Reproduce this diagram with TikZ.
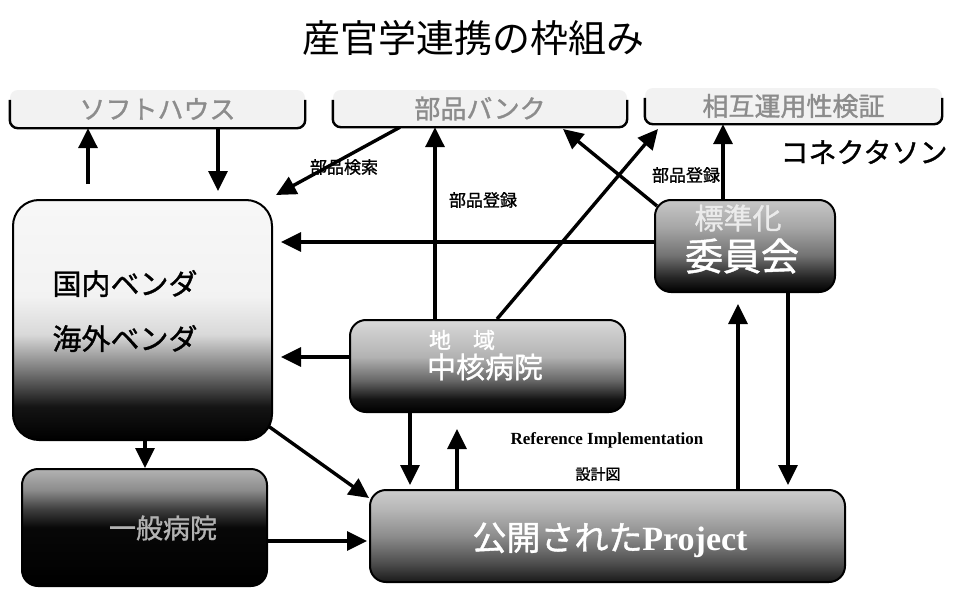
\documentclass[tikz,border=0pt]{standalone}
\usepackage{fontspec}
\setmainfont{Noto Sans CJK JP}
\newfontfamily\cjkb{Noto Sans CJK JP}[FakeBold=1.2]
\newfontfamily\tms{Liberation Serif}
\usetikzlibrary{arrows.meta}
\pgfdeclarelayer{back}
\pgfdeclarelayer{bg}
\pgfsetlayers{back,bg,main}
\pgfdeclareverticalshading{vendsh}{100bp}{color(0bp)=(black); color(25bp)=(black); color(32bp)=(black!92); color(40bp)=(black!50); color(47bp)=(black!15); color(55bp)=(black!5); color(75bp)=(black!3); color(100bp)=(black!3)}
\pgfdeclareverticalshading{commsh}{100bp}{color(0bp)=(black); color(25bp)=(black); color(33bp)=(black!85); color(45bp)=(black!55); color(60bp)=(black!35); color(75bp)=(black!22); color(100bp)=(black!22)}
\pgfdeclareverticalshading{hospsh}{100bp}{color(0bp)=(black); color(25bp)=(black); color(32bp)=(black!92); color(42bp)=(black!60); color(55bp)=(black!30); color(75bp)=(black!15); color(100bp)=(black!15)}
\pgfdeclareverticalshading{gensh}{100bp}{color(0bp)=(black); color(25bp)=(black); color(50bp)=(black!97); color(58bp)=(black!75); color(66bp)=(black!45); color(75bp)=(black!30); color(100bp)=(black!30)}
\pgfdeclareverticalshading{projsh}{100bp}{color(0bp)=(black); color(25bp)=(black!90); color(35bp)=(black!70); color(50bp)=(black!45); color(65bp)=(black!28); color(75bp)=(black!20); color(100bp)=(black!20)}
\tikzset{
  arr/.style={line width=3.4pt, -{Triangle[length=20pt,width=19pt]}},
  topbox/.style={rounded corners=8pt, fill=black!5, inner sep=0pt, text=black!45, font=\cjkb\fontsize{26}{28}\selectfont},
  topedge/.style={line width=2.4pt, rounded corners=8pt},
  gbox/.style={rounded corners=16pt, draw=black, line width=2pt, inner sep=0pt},
  lab/.style={font=\cjkb\fontsize{17}{19}\selectfont, inner sep=0pt}
}
\begin{document}
\begin{tikzpicture}[x=1pt,y=-1pt]
\begin{pgfonlayer}{back}
\fill[white] (0,0) rectangle (954,589);
\end{pgfonlayer}
\useasboundingbox (0,0) rectangle (954,589);
% title
\node[font=\fontsize{38}{40}\selectfont, inner sep=0pt] (title) at (473,38) {産官学連携の枠組み};
% top boxes
\node[topbox, minimum width=295pt, minimum height=38pt] (soft) at (157.5,109) {ソフトハウス};
\node[topbox, minimum width=294pt, minimum height=37pt] (bank) at (480,108.5) {部品バンク};
\node[topbox, minimum width=297pt, minimum height=36pt] (inter) at (793.5,106) {相互運用性検証};
\draw[topedge] ([yshift=-10pt]soft.north west) -- (soft.south west) -- (soft.south east) -- ([yshift=-10pt]soft.north east);
\draw[topedge] ([yshift=-10pt]bank.north west) -- (bank.south west) -- (bank.south east) -- ([yshift=-10pt]bank.north east);
\draw[topedge] ([yshift=-10pt]inter.north west) -- (inter.south west) -- (inter.south east) -- ([yshift=-10pt]inter.north east);
\node[font=\cjkb\fontsize{28}{30}\selectfont, inner sep=0pt] (conn) at (864,152) {コネクタソン};
% main boxes
\node[gbox, rounded corners=26pt, shading=vendsh, minimum width=259pt, minimum height=240pt] (vend) at (142.5,320) {};
\node[inner sep=0pt, align=left, font=\cjkb\fontsize{29}{55}\selectfont] (vtext) at (125,311) {国内ベンダ\\海外ベンダ};
\node[gbox, shading=commsh, minimum width=180pt, minimum height=92pt, text=white] (comm) at (745,246) {};
\node[inner sep=0pt, text=black!8, font=\cjkb\fontsize{29}{31}\selectfont] (commt1) at (738,218) {標準化};
\node[inner sep=0pt, text=white, font=\cjkb\fontsize{38}{40}\selectfont] (commt2) at (742,256) {委員会};
\node[gbox, shading=hospsh, minimum width=275pt, minimum height=92pt] (hosp) at (487.5,366) {};
\node[inner sep=0pt, text=white, font=\cjkb\fontsize{22}{24}\selectfont] (hospt1) at (462,340) {地　域};
\node[inner sep=0pt, text=white, font=\cjkb\fontsize{29}{31}\selectfont] (hospt2) at (485,367) {中核病院};
\node[gbox, shading=gensh, minimum width=245pt, minimum height=117pt] (gen) at (144.5,527.5) {};
\node[inner sep=0pt, text=black!30, font=\cjkb\fontsize{27}{29}\selectfont] (gent) at (163,528) {一般病院};
\node[gbox, shading=projsh, minimum width=475pt, minimum height=92pt] (proj) at (607.5,536) {};
\node[inner sep=0pt, text=white, font=\cjkb\fontsize{34}{36}\selectfont] (projt) at (610,540) {公開された{\tms\bfseries Project}};
% labels
\node[lab] (l1) at (344,167) {部品検索};
\node[lab] (l2) at (483,200) {部品登録};
\node[lab] (l3) at (686,175) {部品登録};
\node[inner sep=0pt, font=\tms\bfseries\fontsize{17}{19}\selectfont] (l4) at (607,440) {Reference Implementation};
\node[inner sep=0pt, font=\cjkb\fontsize{15}{17}\selectfont] (l5) at (598,474) {設計図};
% coordinates
\coordinate (c1) at (88,184);
\coordinate (c2) at (218,191);
\coordinate (c3) at (400,0);
\coordinate (c3b) at (276,195);
\coordinate (c4) at (435,0);
\coordinate (c5) at (497,0);
\coordinate (c5b) at (658,129);
\coordinate (c6) at (657,206);
\coordinate (c6b) at (563,129);
\coordinate (c7) at (723,0);
\coordinate (c8) at (0,242);
\coordinate (c9) at (0,357);
\coordinate (c10) at (264,423);
\coordinate (c10b) at (369,498);
\coordinate (c11) at (145,0);
\coordinate (c12) at (0,541);
\coordinate (c13) at (410,0);
\coordinate (c14) at (457,0);
\coordinate (c14b) at (457,429);
\coordinate (c15) at (738,0);
\coordinate (c15b) at (738,304);
\coordinate (c16) at (788,0);
\begin{pgfonlayer}{bg}
\draw[arr] (c1) -- (c1 |- soft.south);
\draw[arr] (c2 |- soft.south) -- (c2);
\draw[arr] (c3 |- bank.south) -- (c3b);
\draw[arr] (c4 |- hosp.north) -- (c4 |- bank.south);
\draw[arr] (c5 |- hosp.north) -- (c5b);
\draw[arr] (c6) -- (c6b);
\draw[arr] (c7 |- comm.north) -- (c7 |- inter.south);
\draw[arr, shorten >=8pt] (c8 -| comm.west) -- (c8 -| vend.east);
\draw[arr, shorten >=8pt] (c9 -| hosp.west) -- (c9 -| vend.east);
\draw[arr] (c10) -- (c10b);
\draw[arr] (c11 |- vend.south) -- (c11 |- gen.north);
\draw[arr, shorten >=2pt] (c12 -| gen.east) -- (c12 -| proj.west);
\draw[arr, shorten >=4pt] (c13 |- hosp.south) -- (c13 |- proj.north);
\draw[arr] (c14 |- proj.north) -- (c14b);
\draw[arr] (c15 |- proj.north) -- (c15b);
\draw[arr, shorten >=4pt] (c16 |- comm.south) -- (c16 |- proj.north);
\end{pgfonlayer}
\end{tikzpicture}
\end{document}
